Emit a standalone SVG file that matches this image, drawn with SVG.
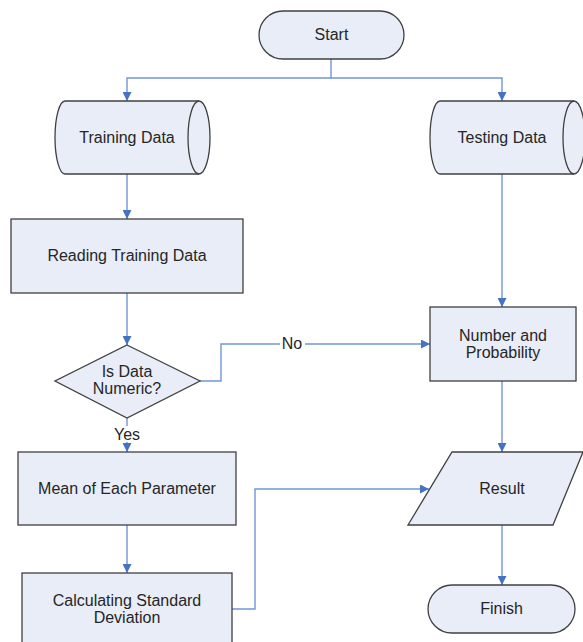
<svg xmlns="http://www.w3.org/2000/svg" width="583" height="642" viewBox="0 0 583 642">
  <defs>
    <marker id="arrow" viewBox="0 0 10 10" refX="10" refY="5" markerWidth="9" markerHeight="9" markerUnits="userSpaceOnUse" orient="auto">
      <path d="M0,0 L10,5 L0,10 z" fill="#4472C4"/>
    </marker>
    <style>
      .shape { fill: #E8EDF7; stroke: #404040; stroke-width: 1.3; }
      .edge { fill: none; stroke: #7096D6; stroke-width: 1.4; marker-end: url(#arrow); }
      .line { fill: none; stroke: #404040; stroke-width: 1.3; }
      text { font-family: "Liberation Sans", Arial, sans-serif; font-size: 16px; fill: #262626; text-anchor: middle; dominant-baseline: central; }
      .lbl-bg { fill: #ffffff; }
    </style>
  </defs>

  <rect width="583" height="642" fill="#ffffff"/>

  <g id="connectors">
    <path class="edge" d="M331,59 V78 H127 V101"/>
    <path class="edge" d="M331,78 H502 V101"/>
    <path class="edge" d="M127,174 V219"/>
    <path class="edge" d="M127,293 V345"/>
    <path class="edge" d="M200,381 H221 V344 H430"/>
    <path class="edge" d="M127,418 V452"/>
    <path class="edge" d="M127,525 V573"/>
    <path class="edge" d="M232,609 H255 V489 H429"/>
    <path class="edge" d="M502,174 V307"/>
    <path class="edge" d="M502,381 V452"/>
    <path class="edge" d="M502,525 V585"/>
    <rect class="lbl-bg" x="280" y="336" width="25" height="16"/>
    <text x="292" y="343">No</text>
    <rect class="lbl-bg" x="111" y="426" width="32" height="16"/>
    <text x="127" y="434">Yes</text>
  </g>

  <g id="start">
    <rect class="shape" x="259" y="11" width="145" height="48" rx="24" ry="24"/>
    <text x="331.5" y="34">Start</text>
  </g>

  <g id="training-data">
    <path class="shape" d="M65,101 L199,101 A11,36.5 0 0 1 199,174 L65,174 A10,36.5 0 0 1 65,101 Z"/>
    <path class="line" d="M199,101 A11,36.5 0 0 0 199,174"/>
    <text x="127" y="137">Training Data</text>
  </g>

  <g id="testing-data">
    <path class="shape" d="M440,101 L574,101 A11,36.5 0 0 1 574,174 L440,174 A10,36.5 0 0 1 440,101 Z"/>
    <path class="line" d="M574,101 A11,36.5 0 0 0 574,174"/>
    <text x="502" y="137">Testing Data</text>
  </g>

  <g id="reading-training-data">
    <rect class="shape" x="11" y="219" width="232" height="74"/>
    <text x="127" y="255">Reading Training Data</text>
  </g>

  <g id="is-data-numeric">
    <path class="shape" d="M127,345 L200,381 L127,418 L55,381 Z"/>
    <text x="127" y="371">Is Data</text>
    <text x="127" y="388.5">Numeric?</text>
  </g>

  <g id="number-and-probability">
    <rect class="shape" x="430" y="307" width="146" height="74"/>
    <text x="503" y="335">Number and</text>
    <text x="503" y="352">Probability</text>
  </g>

  <g id="mean-of-each-parameter">
    <rect class="shape" x="18" y="452" width="218" height="73"/>
    <text x="127" y="488">Mean of Each Parameter</text>
  </g>

  <g id="result">
    <path class="shape" d="M452,452 L583,452 L553,525 L408,525 Z"/>
    <text x="502" y="488">Result</text>
  </g>

  <g id="calculating-standard-deviation">
    <rect class="shape" x="22" y="573" width="210" height="80"/>
    <text x="127" y="600">Calculating Standard</text>
    <text x="127" y="617.5">Deviation</text>
  </g>

  <g id="finish">
    <rect class="shape" x="428" y="585" width="147" height="48" rx="24" ry="24"/>
    <text x="501.5" y="608">Finish</text>
  </g>
</svg>
